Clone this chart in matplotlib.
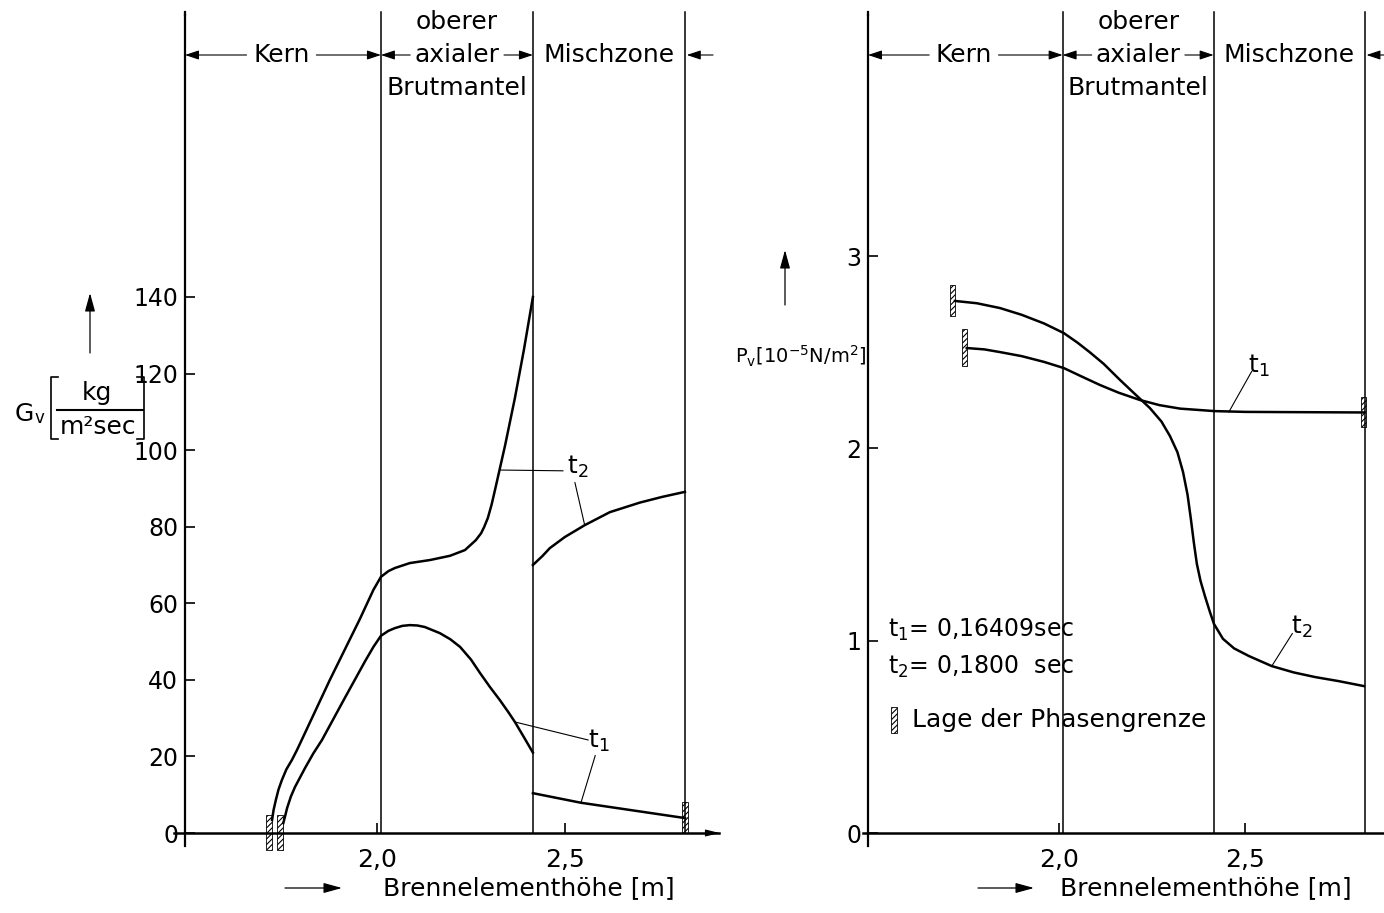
import matplotlib
matplotlib.use('Agg')
import matplotlib.pyplot as plt
from matplotlib.patches import Rectangle, FancyArrowPatch
from matplotlib.lines import Line2D
from matplotlib.transforms import blended_transform_factory

plt.rcParams['font.family'] = ['DejaVu Sans']
plt.rcParams['mathtext.default'] = 'regular'
plt.rcParams['hatch.linewidth'] = 0.8

# ===== Daten =====
zone_bounds = [2.01, 2.415, 2.82]          # Kern | Brutmantel | Mischzone | Ende [m]
x_ticks = [2.0, 2.5]
x_ticklabels = ['2,0', '2,5']

# linkes Bild: Gv [kg/m2 sec]
gv_ticks = [0, 20, 40, 60, 80, 100, 120, 140]
gv_t2_x = [1.720, 1.724, 1.730, 1.737, 1.746, 1.758, 1.773, 1.786, 1.799, 1.874, 1.954,
           1.990, 2.010, 2.030, 2.047, 2.087, 2.141, 2.194, 2.234, 2.263, 2.277, 2.285,
           2.295, 2.305, 2.314, 2.341, 2.367, 2.391, 2.415]
gv_t2_y = [3.4, 6.0, 8.6, 11.3, 13.8, 16.6, 19.1, 21.6, 24.3, 40.0, 55.9,
           63.5, 66.9, 68.4, 69.2, 70.5, 71.3, 72.4, 73.9, 76.5, 78.3, 79.9,
           82.3, 85.8, 89.6, 101.3, 113.6, 126.2, 140.0]
gv_t1_x = [1.750, 1.755, 1.760, 1.770, 1.781, 1.795, 1.808, 1.830, 1.853, 1.914, 1.968,
           1.990, 2.010, 2.030, 2.047, 2.067, 2.087, 2.107, 2.127, 2.167, 2.195, 2.221,
           2.250, 2.274, 2.300, 2.327, 2.350, 2.367, 2.390, 2.415]
gv_t1_y = [2.6, 4.5, 6.5, 9.5, 12.0, 14.6, 17.0, 20.8, 24.3, 35.3, 44.9,
           48.6, 51.5, 52.8, 53.5, 54.1, 54.3, 54.2, 53.8, 52.2, 50.6, 48.6,
           45.3, 41.8, 38.2, 34.7, 31.5, 29.0, 25.2, 21.0]
gv_t2_mz_x = [2.415, 2.440, 2.460, 2.500, 2.553, 2.620, 2.700, 2.760, 2.820]
gv_t2_mz_y = [70.0, 72.3, 74.4, 77.3, 80.4, 83.8, 86.3, 87.8, 89.1]
gv_t1_mz_x = [2.415, 2.543, 2.820]
gv_t1_mz_y = [10.4, 7.9, 3.9]
gv_phase_x = [1.720, 1.750, 2.820]
gv_phase_y0 = [-4.4, -4.4, 0.0]
gv_phase_y1 = [4.7, 4.7, 8.0]

# rechtes Bild: Pv [1e-5 N/m2]
pv_ticks = [0, 1, 2, 3]
pv_t2_x = [1.721, 1.780, 1.842, 1.900, 1.960, 2.013, 2.050, 2.083, 2.120, 2.164, 2.200,
           2.244, 2.275, 2.298, 2.318, 2.333, 2.345, 2.354, 2.362, 2.370, 2.380, 2.392,
           2.405, 2.416, 2.440, 2.470, 2.510, 2.571, 2.630, 2.687, 2.750, 2.818]
pv_t2_y = [2.767, 2.755, 2.730, 2.695, 2.650, 2.600, 2.550, 2.500, 2.440, 2.356, 2.290,
           2.210, 2.140, 2.064, 1.980, 1.877, 1.760, 1.633, 1.510, 1.400, 1.310, 1.230,
           1.150, 1.087, 1.010, 0.960, 0.920, 0.868, 0.835, 0.811, 0.790, 0.764]
pv_t1_x = [1.753, 1.800, 1.842, 1.900, 1.960, 2.013, 2.060, 2.110, 2.160, 2.217, 2.270,
           2.325, 2.418, 2.500, 2.593, 2.818]
pv_t1_y = [2.522, 2.515, 2.501, 2.480, 2.450, 2.418, 2.375, 2.330, 2.290, 2.252, 2.225,
           2.207, 2.194, 2.190, 2.189, 2.187]
pv_phase_x = [1.721, 1.753, 2.818]
pv_phase_y0 = [2.69, 2.43, 2.11]
pv_phase_y1 = [2.85, 2.62, 2.27]

W, H = 1384, 913
FS = 18


def fx(px):
    return px / W


def fy(py):
    return 1 - py / H


fig = plt.figure(figsize=(W / 100, H / 100), dpi=100)
fig.patch.set_facecolor('white')

axL = fig.add_axes([fx(185), fy(833), (718.5 - 185) / W, (833 - 15) / H])
axR = fig.add_axes([fx(868), fy(833), (1384 - 868) / W, (833 - 15) / H])
axL.set_xlim(1.488, 2.9095)
axL.set_ylim(0, 213.65)
axR.set_xlim(1.488, 2.872)
axR.set_ylim(0, 4.254)


def zone_arrow(ax, x0, x1, yf):
    tr = blended_transform_factory(ax.transData, ax.transAxes)
    ax.add_patch(FancyArrowPatch((x0, yf), (x1, yf), transform=tr, clip_on=False,
                                 arrowstyle='-|>,head_length=0.6,head_width=0.2',
                                 mutation_scale=14, lw=0.8, color='black',
                                 shrinkA=0, shrinkB=0))


def phase_mark(ax, x, y0, y1, w, where):
    left = {'left': x - w, 'mid': x - w / 2}[where]
    ax.add_patch(Rectangle((left, y0), w, y1 - y0, fill=False, hatch='//////',
                           lw=0.6, edgecolor='black', clip_on=False, zorder=4))


def setup(ax, yticks, ylabels, x_line0, x_line1, xr):
    for s in ['top', 'right', 'bottom']:
        ax.spines[s].set_visible(False)
    ax.spines['left'].set_linewidth(1.6)
    ax.set_yticks(yticks)
    ax.set_yticklabels(ylabels)
    ax.set_xticks(x_ticks)
    ax.set_xticklabels(x_ticklabels)
    ax.tick_params(axis='both', direction='in', length=7, width=1.2, labelsize=17)
    ax.tick_params(axis='x', pad=11, labelsize=18)
    ax.tick_params(axis='y', pad=5)
    x0 = ax.get_xlim()[0]
    y0, y1 = ax.get_ylim()
    # x-Achse bei y=0, y-Achse etwas nach unten verlaengert
    ax.plot([x_line0, x_line1], [0, 0], color='black', lw=1.8, clip_on=False)
    ax.plot([x0, x0], [0, -0.016 * (y1 - y0)], color='black', lw=1.6, clip_on=False)
    ax.plot([x0, x0], [y1, y1 + 0.004 * (y1 - y0)], color='black', lw=1.6, clip_on=False)
    for b in zone_bounds:
        ax.plot([b, b], [0, y1 + 0.004 * (y1 - y0)], color='black', lw=1.1, clip_on=False)
    # Zonenbeschriftung oben
    tr = blended_transform_factory(ax.transData, ax.transAxes)
    yk = (833 - 55) / 818
    ax.text(1.745, yk, 'Kern', transform=tr, ha='center', va='center', fontsize=FS)
    ax.text(2.213, (833 - 22) / 818, 'oberer', transform=tr, ha='center', va='center', fontsize=FS)
    ax.text(2.213, yk, 'axialer', transform=tr, ha='center', va='center', fontsize=FS)
    ax.text(2.213, (833 - 88) / 818, 'Brutmantel', transform=tr, ha='center', va='center', fontsize=FS)
    ax.text(2.617, yk, 'Mischzone', transform=tr, ha='center', va='center', fontsize=FS)
    zone_arrow(ax, 1.652, x0, yk)
    zone_arrow(ax, 1.838, zone_bounds[0], yk)
    zone_arrow(ax, 2.088, zone_bounds[0], yk)
    zone_arrow(ax, 2.338, zone_bounds[1], yk)
    zone_arrow(ax, xr, zone_bounds[2] + 0.005, yk)


setup(axL, gv_ticks, [str(v) for v in gv_ticks], 1.459, 2.9095, 2.895)
setup(axR, pv_ticks, [str(v) for v in pv_ticks], 1.475, 2.872, 2.872)

# x-Achsen Pfeilspitze links
axL.add_patch(FancyArrowPatch((2.88, 0), (2.912, 0), arrowstyle='-|>,head_length=0.6,head_width=0.15',
                              mutation_scale=14, lw=0.8, color='black', clip_on=False,
                              shrinkA=0, shrinkB=0))

# ===== Kurven links =====
lw = 1.8
axL.plot(gv_t2_x, gv_t2_y, color='black', lw=lw, clip_on=False, solid_joinstyle='round')
axL.plot(gv_t1_x, gv_t1_y, color='black', lw=lw, clip_on=False, solid_joinstyle='round')
axL.plot(gv_t2_mz_x, gv_t2_mz_y, color='black', lw=lw, solid_joinstyle='round')
axL.plot(gv_t1_mz_x, gv_t1_mz_y, color='black', lw=lw)
for i, (x, a, b) in enumerate(zip(gv_phase_x, gv_phase_y0, gv_phase_y1)):
    phase_mark(axL, x, a, b, 0.016, 'mid' if i == 2 else 'left')

# Bezugslinien t1/t2 links
axL.plot([2.327, 2.495], [94.8, 94.6], color='black', lw=0.8)
axL.plot([2.553, 2.527], [80.4, 91.5], color='black', lw=0.8)
axL.text(2.535, 95.5, 't$_2$', fontsize=FS, ha='center', va='center')
axL.plot([2.367, 2.562], [29.0, 24.3], color='black', lw=0.8)
axL.plot([2.543, 2.581], [7.9, 20.2], color='black', lw=0.8)
axL.text(2.590, 24.0, 't$_1$', fontsize=FS, ha='center', va='center')

# ===== Kurven rechts =====
axR.plot(pv_t2_x, pv_t2_y, color='black', lw=lw, solid_joinstyle='round')
axR.plot(pv_t1_x, pv_t1_y, color='black', lw=lw, solid_joinstyle='round')
for i, (x, a, b) in enumerate(zip(pv_phase_x, pv_phase_y0, pv_phase_y1)):
    phase_mark(axR, x, a, b, 0.014, 'mid' if i == 2 else 'left')

axR.plot([2.456, 2.517], [2.19, 2.40], color='black', lw=0.8)
axR.text(2.535, 2.43, 't$_1$', fontsize=FS, ha='center', va='center')
axR.plot([2.571, 2.626], [0.868, 1.037], color='black', lw=0.8)
axR.text(2.652, 1.07, 't$_2$', fontsize=FS, ha='center', va='center')

# Legende rechts
fig.text(fx(888), fy(630), 't$_1$= 0,16409sec', fontsize=17, ha='left', va='center')
fig.text(fx(888), fy(667), 't$_2$= 0,1800  sec', fontsize=17, ha='left', va='center')
fig.add_artist(Rectangle((fx(891), fy(733)), 6 / W, 26 / H, fill=False, hatch='//////',
                         lw=0.6, edgecolor='black', transform=fig.transFigure))
fig.text(fx(912), fy(720), 'Lage der Phasengrenze', fontsize=FS, ha='left', va='center')


# ===== Achsenbeschriftungen =====
def fig_line(xs, ys, lw=1.2):
    fig.add_artist(Line2D([fx(v) for v in xs], [fy(v) for v in ys], color='black',
                          lw=lw, transform=fig.transFigure))


def fig_arrow(p0, p1):
    fig.add_artist(FancyArrowPatch((fx(p0[0]), fy(p0[1])), (fx(p1[0]), fy(p1[1])),
                                   transform=fig.transFigure,
                                   arrowstyle='-|>,head_length=0.8,head_width=0.22',
                                   mutation_scale=14, lw=0.9, color='black',
                                   shrinkA=0, shrinkB=0))


# x-Achse
fig.text(fx(383), fy(888), 'Brennelementhöhe [m]', fontsize=FS, ha='left', va='center')
fig_arrow((285, 888), (342, 888))
fig.text(fx(1060), fy(888), 'Brennelementhöhe [m]', fontsize=FS, ha='left', va='center')
fig_arrow((978, 888), (1034, 888))

# Gv-Beschriftung
fig.text(fx(24), fy(414), 'G', fontsize=FS, ha='center', va='center')
fig.text(fx(39), fy(418), 'v', fontsize=12, ha='center', va='center')
fig_line([58, 51, 51, 58], [377, 377, 439, 439])
fig.text(fx(97), fy(393), 'kg', fontsize=FS, ha='center', va='center')
fig_line([57, 143], [410, 410], lw=1.5)
fig.text(fx(98), fy(427), 'm²sec', fontsize=FS, ha='center', va='center')
fig_line([137, 144, 144, 137], [377, 377, 439, 439])
fig_arrow((90, 353), (90, 293))

# Pv-Beschriftung
fig.text(fx(866), fy(356), 'P$_v$[10$^{-5}$N/m$^2$]', fontsize=14, ha='right', va='center')
fig_arrow((785, 305), (785, 250))

fig.savefig('out.png', dpi=100, facecolor='white')
